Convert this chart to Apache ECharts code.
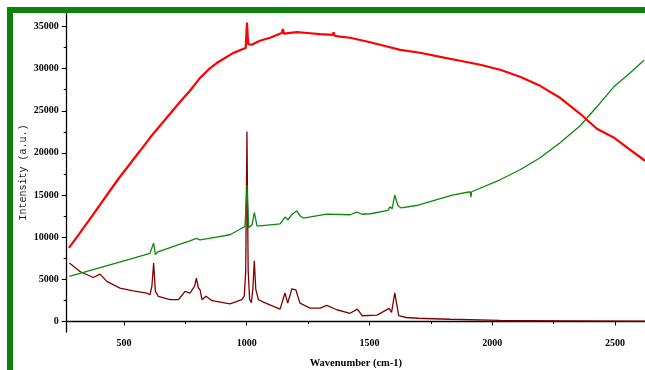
<!DOCTYPE html>
<html><head><meta charset="utf-8">
<script src="https://cdn.jsdelivr.net/npm/echarts@6/dist/echarts.min.js"></script>
<style>html,body{margin:0;padding:0;background:#fff}#c{width:645px;height:370px}</style>
</head><body><div id="c"></div>
<script>
// [wavenumber (cm-1), intensity (a.u.)]
const redSpectrum = [[276,8740],[321,10520],[362,12180],[403,13850],[443,15510],[484,17170],[525,18710],[566,20250],[606,21790],[647,23220],[688,24640],[729,26060],[769,27370],[810,28900],[845,29900],[878,30660],[944,31840],[985,32320],[996,32450],[1001,35470],[1006,32900],[1020,32830],[1054,33300],[1095,33660],[1143,34220],[1147,34690],[1152,34150],[1204,34340],[1258,34200],[1299,34090],[1350,34000],[1354,34300],[1358,33900],[1380,33800],[1421,33660],[1489,33220],[1543,32830],[1625,32230],[1706,31880],[1788,31400],[1869,30930],[1951,30460],[2032,29860],[2113,29030],[2195,27960],[2276,26540],[2358,24640],[2426,22860],[2494,21840],[2562,20370],[2622,19070]];
const greenSpectrum = [[278,5340],[403,6380],[525,7390],[606,8080],[612,8190],[621,9300],[628,7950],[639,8270],[708,8980],[769,9570],[795,9870],[810,9690],[871,9990],[932,10290],[993,11270],[1001,16200],[1008,11120],[1022,11470],[1031,12930],[1042,11350],[1054,11350],[1136,11590],[1156,12390],[1168,12070],[1183,12660],[1193,12900],[1204,13130],[1217,12540],[1230,12270],[1326,12740],[1421,12660],[1449,12980],[1470,12720],[1504,12780],[1576,13190],[1583,13600],[1592,13370],[1603,15000],[1616,13730],[1629,13470],[1698,13790],[1837,15000],[1910,15390],[1913,14740],[1916,15390],[2032,16810],[2113,18000],[2195,19420],[2276,21200],[2358,23220],[2426,25470],[2494,27810],[2562,29510],[2618,31000]];
const maroonSpectrum = [[278,6930],[321,5930],[375,5220],[403,5620],[410,5660],[430,4750],[484,3960],[538,3640],[593,3370],[606,3170],[614,4200],[621,6930],[628,3600],[640,2970],[688,2580],[722,2580],[749,3560],[769,3370],[788,4200],[795,5150],[803,4000],[810,3760],[818,2580],[834,2990],[859,2460],[932,2100],[980,2580],[990,3000],[996,6000],[1001,22540],[1006,6000],[1012,2600],[1019,2220],[1025,3800],[1031,7200],[1037,3800],[1048,2580],[1068,2300],[1109,1780],[1136,1470],[1156,3370],[1167,2180],[1184,3880],[1200,3760],[1217,2180],[1258,1590],[1299,1590],[1326,1900],[1367,1390],[1421,970],[1451,1470],[1470,680],[1531,750],[1580,1550],[1590,1080],[1603,3400],[1619,680],[1649,470],[1698,380],[1760,320],[1828,260],[2031,120],[2300,80],[2573,50],[2622,40]];
const xMajorTicks = [500,1000,1500,2000,2500];
const xMinorTicks = [750,1250,1750,2250];
const yMajorTicks = [0,5000,10000,15000,20000,25000,30000,35000];
const yMinorTicks = [2500,7500,12500,17500,22500,27500,32500];
const xTitle = 'Wavenumber (cm-1)';
const yTitle = 'Intensity (a.u.)';
const X_MIN = 267, X_MAX = 2622, Y_MIN = -1250, Y_MAX = 36600;

const chart = echarts.init(document.getElementById('c'), null, {renderer:'canvas'});
const plain = v => String(v);
const labelFont = {fontFamily:'Liberation Serif', fontWeight:'bold', fontSize:10, color:'#000'};
const axisLineStyle = {show:true, lineStyle:{color:'#000', width:1.3}};
chart.setOption({
  animation:false,
  backgroundColor:'#fff',
  grid:{left:66.7, top:13, right:0, bottom:38, containLabel:false, outerBoundsMode:'none'},
  xAxis:[
    {type:'value', min:X_MIN, max:X_MAX, position:'bottom',
     axisLine:axisLineStyle, splitLine:{show:false},
     axisTick:{show:true, inside:false, length:4, customValues:xMajorTicks, lineStyle:{color:'#000', width:1}},
     axisLabel:Object.assign({margin:6, customValues:xMajorTicks, formatter:plain}, labelFont),
     name:xTitle, nameLocation:'middle', nameGap:26, nameMoveOverlap:false,
     nameTextStyle:{fontFamily:'Liberation Serif', fontWeight:'bold', fontSize:10.5, color:'#000'}},
    {type:'value', min:X_MIN, max:X_MAX, position:'bottom',
     axisLine:{show:false}, splitLine:{show:false}, axisLabel:{show:false},
     axisTick:{show:true, inside:false, length:2.5, customValues:xMinorTicks, lineStyle:{color:'#000', width:1}}}
  ],
  yAxis:[
    {type:'value', min:Y_MIN, max:Y_MAX, position:'left',
     axisLine:axisLineStyle, splitLine:{show:false},
     axisTick:{show:true, inside:false, length:5, customValues:yMajorTicks, lineStyle:{color:'#000', width:1}},
     axisLabel:Object.assign({margin:8, customValues:yMajorTicks, formatter:plain}, labelFont),
     name:yTitle, nameLocation:'middle', nameGap:38, nameRotate:90, nameMoveOverlap:false,
     nameTextStyle:{fontFamily:'Liberation Mono', fontSize:10, color:'#222'}},
    {type:'value', min:Y_MIN, max:Y_MAX, position:'left',
     axisLine:{show:false}, splitLine:{show:false}, axisLabel:{show:false},
     axisTick:{show:true, inside:false, length:3, customValues:yMinorTicks, lineStyle:{color:'#000', width:1}}}
  ],
  graphic:[
    {type:'rect', shape:{x:7, y:7, width:6, height:363}, style:{fill:'#0b830b'}, z:100},
    {type:'rect', shape:{x:7, y:7, width:638, height:6}, style:{fill:'#0b830b'}, z:100}
  ],
  series:[
    {type:'line', data:maroonSpectrum, showSymbol:false, symbol:'none', clip:true,
     lineStyle:{color:'#800000', width:1.3}},
    {type:'line', data:greenSpectrum, showSymbol:false, symbol:'none', clip:true,
     lineStyle:{color:'#0a8a0a', width:1.3}},
    {type:'line', data:redSpectrum, showSymbol:false, symbol:'none', clip:true,
     lineStyle:{color:'#ff0000', width:2.2}}
  ]
});
</script></body></html>
